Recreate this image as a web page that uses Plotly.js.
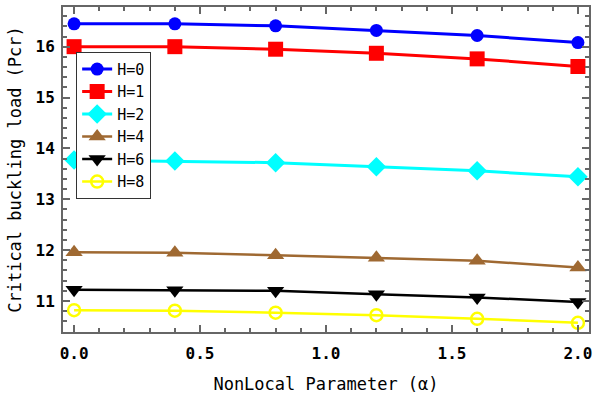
<!DOCTYPE html>
<html><head><meta charset="utf-8">
<script src="https://cdn.plot.ly/plotly-3.0.1.min.js"></script>
<style>html,body{margin:0;padding:0;background:#fff}</style>
</head><body><div id="chart" style="width:596px;height:398px"></div>
<script>
const alpha = [0, 0.4, 0.8, 1.2, 1.6, 2.0];
const names = ["H=0","H=1","H=2","H=4","H=6","H=8"];
const H0 = [16.45, 16.45, 16.41, 16.32, 16.22, 16.08];
const H1 = [16.00, 16.00, 15.95, 15.87, 15.76, 15.61];
const H2 = [13.77, 13.75, 13.72, 13.64, 13.56, 13.44];
const H4 = [11.96, 11.95, 11.90, 11.85, 11.79, 11.66];
const H6 = [11.22, 11.21, 11.20, 11.13, 11.07, 10.98];
const H8 = [10.82, 10.81, 10.77, 10.72, 10.65, 10.57];
const series = [H0, H1, H2, H4, H6, H8];
const colors = ["#0000ff","#ff0000","#00ffff","#9f6932","#000000","#ffff00"];
const symbols = ["circle","square","diamond","triangle-up","triangle-down","circle-open"];
const sizes = [13, 15, 15, 15, 15, 12];
const widths = [3, 3, 3, 2.5, 2.5, 2.5];

const traces = series.map((ys, i) => ({
  x: alpha, y: ys, name: names[i], type: "scatter", mode: "lines+markers",
  line: {color: colors[i], width: widths[i]},
  marker: {color: colors[i], symbol: symbols[i], size: sizes[i], line: {width: i===5 ? 2.5 : 0, color: colors[i]}}
}));

const mono = "DejaVu Sans Mono";
const axisCommon = {
  showline: true, linecolor: "#666", linewidth: 2, mirror: "ticks",
  ticks: "inside", ticklen: 7, tickwidth: 2, tickcolor: "#666",
  showgrid: false, zeroline: false,
  tickfont: {family: mono, size: 16, color: "#000", weight: "bold"}
};
const layout = {
  width: 596, height: 398,
  margin: {l: 63, r: 7, t: 7, b: 66},
  paper_bgcolor: "#fff", plot_bgcolor: "#fff",
  showlegend: true,
  legend: {x: 0.025, y: 0.862, xanchor: "left", yanchor: "top",
    bgcolor: "#fff", bordercolor: "#333", borderwidth: 1,
    font: {family: mono, size: 15, color: "#000"}, itemwidth: 30, tracegroupgap: 0},
  xaxis: Object.assign({}, axisCommon, {
    range: [-0.044, 2.044], tickvals: [0, 0.5, 1.0, 1.5, 2.0], ticktext: ["0.0","0.5","1.0","1.5","2.0"],
    ticklabelstandoff: 6,
    minor: {dtick: 0.1, ticks: "inside", ticklen: 4, tickwidth: 2, tickcolor: "#666"},
    title: {text: "NonLocal Parameter (α)", font: {family: mono, size: 17, color: "#000"}, standoff: 16}
  }),
  yaxis: Object.assign({}, axisCommon, {
    range: [10.39, 16.78], tickvals: [11, 12, 13, 14, 15, 16],
    ticklabelstandoff: 3,
    minor: {dtick: 0.2, ticks: "inside", ticklen: 4, tickwidth: 2, tickcolor: "#666"},
    title: {text: "Critical buckling load (Pcr)", font: {family: mono, size: 17, color: "#000"}, standoff: 10}
  })
};
Plotly.newPlot("chart", traces, layout, {displayModeBar: false, staticPlot: true});
</script></body></html>
